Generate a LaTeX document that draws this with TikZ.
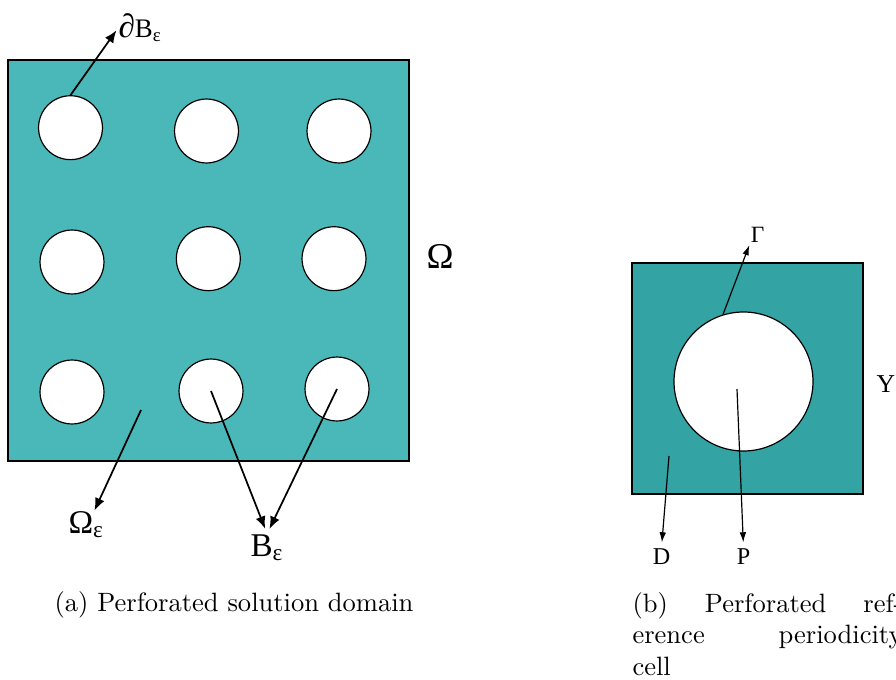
\documentclass[tikz,border=0pt]{standalone}
\usepackage{fontspec}
\newfontfamily\lblfont{Liberation Serif}
\usetikzlibrary{arrows.meta}
\definecolor{domaincol}{RGB}{74,184,184}
\definecolor{cellcol}{RGB}{51,163,163}
\tikzset{
  hole/.style={circle,draw,fill=white,inner sep=0pt,minimum size=24.1pt,line width=0.45pt},
  arr/.style={-{Latex[length=4.7pt,width=3.8pt]},line width=0.65pt},
  thinarr/.style={-{Latex[length=3.8pt,width=2.5pt]},line width=0.45pt},
  lbl/.style={inner sep=0pt}
}
\begin{document}
\begin{tikzpicture}[x=0.377pt,y=-0.377pt]
    \useasboundingbox (0,0) rectangle (896,680);

    % perforated domain
    \draw[fill=domaincol,line width=0.45pt] (8,60) rectangle (409,461);
    \node[hole] (h11) at (70.5,127.7) {};
    \node[hole] (h12) at (206.5,131) {};
    \node[hole] (h13) at (339,131) {};
    \node[hole] (h21) at (72,262) {};
    \node[hole] (h22) at (208.3,258.7) {};
    \node[hole] (h23) at (334,258.7) {};
    \node[hole] (h31) at (72,392) {};
    \node[hole] (h32) at (211,391) {};
    \node[hole] (h33) at (337,389) {};
    \coordinate (dom) at (141,410);

    \node[lbl,anchor=base west,font=\lblfont\fontsize{10.1}{12}\selectfont] (dB) at (118,38) {{\fontsize{12.5}{12}\selectfont ∂}B\textsubscript{ε}};
    \node[lbl,font=\lblfont\fontsize{13.7}{16}\selectfont] (Om) at (440,256) {Ω};
    \node[lbl,anchor=base west,font=\lblfont\fontsize{12.5}{15}\selectfont] (Oe) at (68,533) {Ω\textsubscript{ε}};
    \node[lbl,anchor=base west,font=\lblfont\fontsize{12.5}{15}\selectfont] (Be) at (250,556) {B\textsubscript{ε}};

    \draw[arr,shorten >=1pt] (h11.north) -- (dB.west);
    \draw[arr] (dom) -- (Oe.60);
    \draw[arr,shorten >=2pt] (h32.center) -- (Be.north);
    \draw[arr,shorten >=2pt] (h33.center) -- (Be.north);

    \node[anchor=base] (capa) at (234,611) {(a) Perforated solution domain};

    % reference cell
    \draw[fill=cellcol,line width=0.45pt] (632,263) rectangle (863,494);
    \node[hole,minimum size=52.4pt] (hole) at (743.5,381.5) {};
    \coordinate (dcell) at (669,456);
    \coordinate (pcell) at (737,389);

    \node[lbl,font=\lblfont\fontsize{8.8}{11}\selectfont] (G) at (757.5,234.5) {Γ};
    \node[lbl,font=\lblfont\fontsize{9.7}{12}\selectfont] (Y) at (886,384.5) {Y};
    \node[lbl,anchor=base,font=\lblfont\fontsize{9.1}{11}\selectfont] (D) at (661.5,564) {D};
    \node[lbl,anchor=base,font=\lblfont\fontsize{9.1}{11}\selectfont] (P) at (743.5,564) {P};

    \draw[thinarr,shorten >=1pt] (hole.107) -- (G.south west);
    \draw[thinarr,shorten >=2pt] (dcell) -- (D.north);
    \draw[thinarr,shorten >=2pt] (pcell) -- (P.north);

    \node[anchor=base west,inner sep=0pt,text width=101.8pt,align=justify] (capb) at (632,612)
        {(b) Perforated ref-\linebreak erence periodicity\linebreak cell};
\end{tikzpicture}
\end{document}
